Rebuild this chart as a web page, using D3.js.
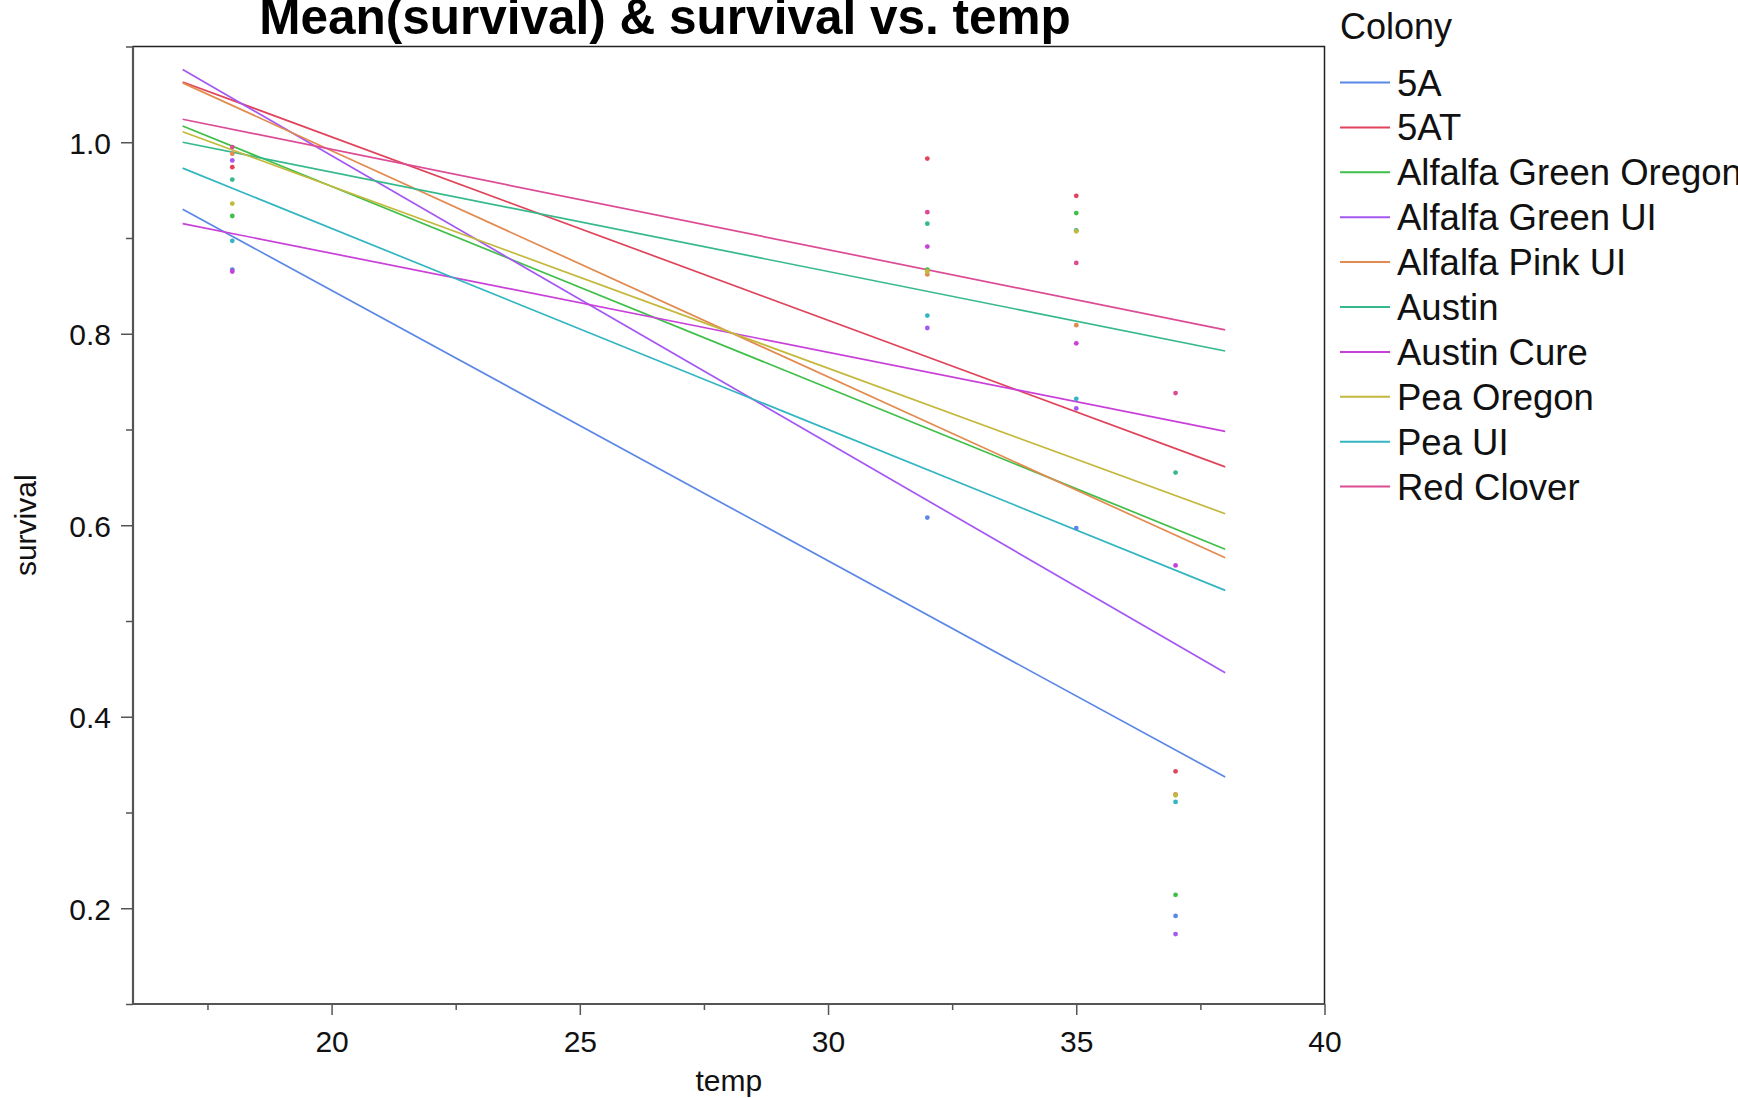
<!DOCTYPE html>
<html lang="en">

<head>
    <meta charset="UTF-8">
    <title>Mean(survival) & survival vs. temp</title>
    <script src="https://d3js.org/d3.v7.min.js"></script>
    <style>
        body { margin: 0; background: #fff; }
        svg { display: block; font-family: "Liberation Sans", Arial, Helvetica, sans-serif; }
    </style>
</head>

<body>
    <div id="myGraph"></div>

    <script type="text/javascript">

        // colonies, in legend order
        const colonies = ["5A", "5AT", "Alfalfa Green Oregon", "Alfalfa Green UI", "Alfalfa Pink UI",
            "Austin", "Austin Cure", "Pea Oregon", "Pea UI", "Red Clover"];
        const colors = ["#5b87e6", "#e0435a", "#3fbf48", "#a457f2", "#e28a4f",
            "#35b98a", "#c93fd9", "#c4b83c", "#33b5c2", "#dc4b94"];

        // mean survival per colony at each temp
        const temps = [18, 32, 35, 37];
        const mean18 = [0.867, 0.974, 0.923, 0.981, 0.988, 0.961, 0.865, 0.936, 0.897, 0.995];
        const mean32 = [0.608, 0.983, 0.867, 0.806, 0.862, 0.915, 0.891, 0.865, 0.819, 0.927];
        const mean35 = [0.597, 0.944, 0.926, 0.722, 0.809, 0.908, 0.790, 0.907, 0.732, 0.874];
        const mean37 = [0.192, 0.343, 0.214, 0.173, 0.319, 0.655, 0.558, 0.318, 0.311, 0.738];

        // fitted line ends (temp 17 -> 38)
        const fitTemps = [17, 38];
        const fitStart = [0.930, 1.063, 1.017, 1.076, 1.062, 1.000, 0.915, 1.011, 0.973, 1.024];
        const fitEnd = [0.337, 0.661, 0.575, 0.446, 0.566, 0.782, 0.698, 0.612, 0.532, 0.804];

        const xMajor = [20, 25, 30, 35, 40];
        const xMinor = [17.5, 22.5, 27.5, 32.5, 37.5];
        const yMajor = [0.2, 0.4, 0.6, 0.8, 1.0];
        const yMinor = [0.1, 0.3, 0.5, 0.7, 0.9, 1.1];

        const width = 1738, height = 1098;
        const mLeft = 133, mRight = 1324.5, mTop = 46.5, mBottom = 1004;

        const svg = d3.select("#myGraph").append("svg")
            .attr("width", width)
            .attr("height", height);

        svg.append("rect").attr("width", width).attr("height", height).attr("fill", "#fff");

        const x = d3.scaleLinear().domain([16, 40]).range([mLeft, mRight]);
        const y = d3.scaleLinear().domain([0.1, 1.1]).range([mBottom, mTop]);

        // title (its top is cut by the page edge, as in the original)
        svg.append("text")
            .attr("x", 665).attr("y", 34)
            .attr("text-anchor", "middle")
            .attr("font-size", 49.5).attr("font-weight", "bold")
            .attr("fill", "#000")
            .text("Mean(survival) & survival vs. temp");

        // frame
        svg.append("rect")
            .attr("x", mLeft).attr("y", mTop)
            .attr("width", mRight - mLeft).attr("height", mBottom - mTop)
            .attr("fill", "none").attr("stroke", "#222").attr("stroke-width", 1.5);

        // axes
        function styleAxis(g) {
            g.select(".domain").remove();
            g.selectAll(".tick line").attr("stroke", "#555").attr("stroke-width", 1.5);
            g.selectAll(".tick text").attr("fill", "#111").attr("font-size", 30)
                .attr("font-family", "Liberation Sans, Arial, Helvetica, sans-serif");
        }

        svg.append("g")
            .attr("transform", "translate(" + mLeft + ",0)")
            .call(d3.axisLeft(y).tickValues(yMajor).tickSize(12).tickPadding(10).tickFormat(d3.format(".1f")))
            .call(styleAxis)
            .selectAll(".tick text").attr("dy", "0.36em");

        svg.append("g")
            .attr("transform", "translate(" + mLeft + ",0)")
            .call(d3.axisLeft(y).tickValues(yMinor).tickSize(7).tickFormat(""))
            .call(styleAxis);

        svg.append("g")
            .attr("transform", "translate(0," + mBottom + ")")
            .call(d3.axisBottom(x).tickValues(xMajor).tickSize(11).tickPadding(16))
            .call(styleAxis);

        svg.append("g")
            .attr("transform", "translate(0," + mBottom + ")")
            .call(d3.axisBottom(x).tickValues(xMinor).tickSize(6).tickFormat(""))
            .call(styleAxis);

        // heavier left / bottom axis lines
        svg.append("line").attr("x1", mLeft).attr("x2", mLeft).attr("y1", mTop).attr("y2", mBottom)
            .attr("stroke", "#555").attr("stroke-width", 2.2);
        svg.append("line").attr("x1", mLeft).attr("x2", mRight).attr("y1", mBottom).attr("y2", mBottom)
            .attr("stroke", "#555").attr("stroke-width", 2.2);

        // axis titles
        svg.append("text")
            .attr("x", (mLeft + mRight) / 2).attr("y", 1091)
            .attr("text-anchor", "middle").attr("font-size", 30).attr("fill", "#111")
            .text("temp");

        svg.append("text")
            .attr("transform", "translate(36," + ((mTop + mBottom) / 2) + ") rotate(-90)")
            .attr("text-anchor", "middle").attr("font-size", 30).attr("fill", "#111")
            .text("survival");

        // fitted lines
        const plot = svg.append("g");
        colonies.forEach((c, i) => {
            plot.append("line")
                .attr("x1", x(fitTemps[0])).attr("y1", y(fitStart[i]))
                .attr("x2", x(fitTemps[1])).attr("y2", y(fitEnd[i]))
                .attr("stroke", colors[i]).attr("stroke-width", 1.7);
        });

        // means
        const means = [mean18, mean32, mean35, mean37];
        temps.forEach((t, j) => {
            colonies.forEach((c, i) => {
                plot.append("circle")
                    .attr("cx", x(t)).attr("cy", y(means[j][i]))
                    .attr("r", 2.4)
                    .attr("fill", colors[i]);
            });
        });

        // legend
        const legend = svg.append("g").attr("transform", "translate(1340,0)");
        legend.append("text")
            .attr("x", 0).attr("y", 39)
            .attr("font-size", 36).attr("fill", "#111")
            .text("Colony");

        colonies.forEach((c, i) => {
            const ly = 82.5 + i * 44.9;
            legend.append("line")
                .attr("x1", 0).attr("x2", 50).attr("y1", ly).attr("y2", ly)
                .attr("stroke", colors[i]).attr("stroke-width", 2);
            legend.append("text")
                .attr("x", 57).attr("y", ly + 13)
                .attr("font-size", 36.5).attr("fill", "#111")
                .text(c);
        });
    </script>
</body>

</html>
